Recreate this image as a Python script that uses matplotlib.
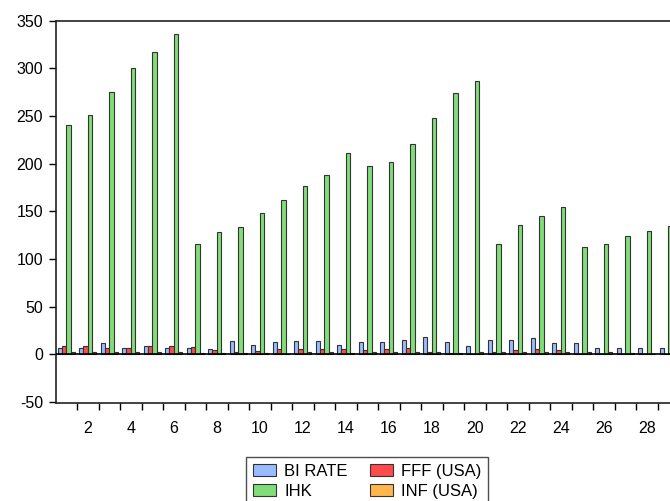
import numpy as np
import matplotlib
matplotlib.use("Agg")
from matplotlib import pyplot as plt

plt.rcParams['font.family'] = ['Liberation Sans', 'DejaVu Sans']
plt.rcParams['axes.unicode_minus'] = False

# observations 1..29 (chart is cut at the right edge)
obs = list(range(1, 30))

bi_rate = [7, 7, 11.5, 7, 9, 7, 7, 6, 14.3, 9.8,
           13.3, 14.3, 14.3, 9.8, 13.3, 13, 14.7, 17.8, 13.3, 8.7,
           15.4, 15.4, 17, 12.2, 11.5, 7, 7, 6.3, 6.3]
fff_usa = [8.7, 8.7, 7, 7, 9, 9, 8, 5, 3, 3.5,
           6, 6, 6, 6, 5, 6, 7, 2.4, 2, 0.7,
           2.8, 5, 6, 5, 0.2, 0.2, 0.1, 0.1, 0.1]
ihk = [241, 251, 275, 300, 317, 336, 116, 128, 134, 148,
       162, 177, 188, 211, 198, 202, 221, 248, 274, 287,
       116, 136, 145, 155, 113, 116, 124, 129, 135]
inf_usa = [2.8, 2.8, 2.8, 2.8, 2.8, 2.8, 1.8, 1, 1, 2,
           0.7, 2.8, 2.8, 2, 2.8, 2.8, 2.8, 2.8, 2, 2.8,
           2.8, 2.8, 2.8, 2.8, 2.8, 2.8, 1.8, 0.7, 0.5]

labels = ['BI RATE', 'FFF (USA)', 'IHK', 'INF (USA)']
colors = ['#99bbff', '#ff4b4b', '#80dd77', '#ffb74d']

fig = plt.figure(figsize=(6.70, 5.01), dpi=100)
# axes extends slightly past the right edge, like the cropped original
ax = fig.add_axes([55.5 / 670, 1 - 403.3 / 501, 623.5 / 670, (403.3 - 20.5) / 501])

x = np.array(obs)
w = 0.2
series = [bi_rate, fff_usa, ihk, inf_usa]
handles = []
for i, (vals, c, lab) in enumerate(zip(series, colors, labels)):
    b = ax.bar(x + (i - 1.5) * w, vals, width=w,
               color=c, edgecolor='#333333', linewidth=0.8, label=lab)
    handles.append(b)

ax.axhline(0, color='black', linewidth=1.2, zorder=3)

ax.set_xlim(0.5, len(obs) + 0.5)
ax.set_ylim(-51.2, 350)
ax.set_yticks(np.arange(-50, 351, 50))
ax.set_xticks(np.arange(2, len(obs) + 1, 2))
ax.set_xticks(np.arange(1.5, len(obs) + 0.6, 1), minor=True)
ax.tick_params(axis='x', which='major', length=0, pad=13, labelsize=11.5)
ax.tick_params(axis='x', which='minor', length=5, width=1, direction='out')
ax.tick_params(axis='y', length=5, width=1, pad=4, labelsize=11.5)

for s in ['top', 'left', 'bottom', 'right']:
    ax.spines[s].set_linewidth(1.2)
    ax.spines[s].set_color('#222222')

leg = fig.legend([handles[0], handles[2], handles[1], handles[3]],
                 [labels[0], labels[2], labels[1], labels[3]],
                 ncol=2, loc='upper left', bbox_to_anchor=(246 / 670, 1 - 457 / 501),
                 borderaxespad=0, fancybox=False, frameon=True, fontsize=12,
                 handlelength=1.4, handleheight=0.75, handletextpad=0.5,
                 columnspacing=1.3, labelspacing=0.3, borderpad=0.4)
leg.get_frame().set_edgecolor('#222222')
leg.get_frame().set_linewidth(1.0)

fig.savefig('out.png', dpi=100)
